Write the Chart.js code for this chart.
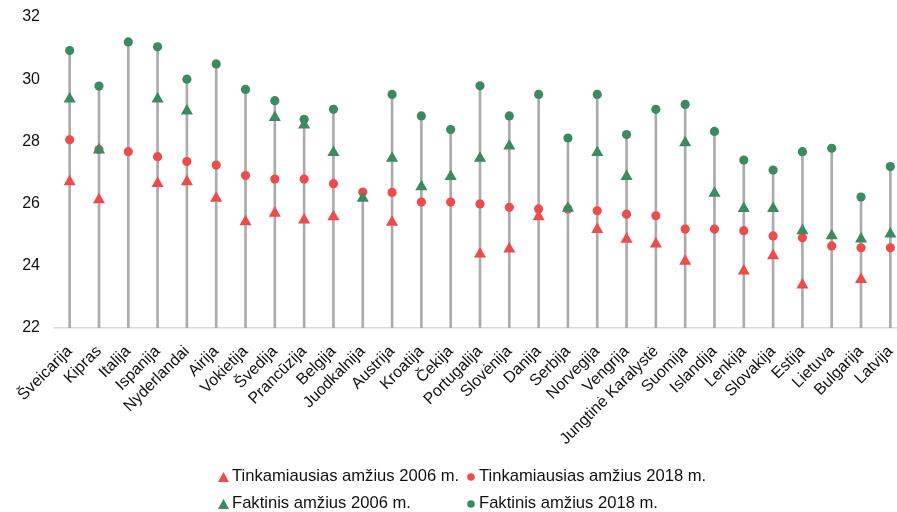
<!DOCTYPE html>
<html>
<head>
<meta charset="utf-8">
<script src="https://cdn.jsdelivr.net/npm/chart.js@4"></script>
<style>
  html, body { margin: 0; padding: 0; background: #fff; overflow: hidden; }
  body { width: 897px; height: 512px; position: relative; font-family: "Liberation Sans", Arial, sans-serif; }
  #wrap { position: absolute; left: 0; top: 0; width: 912px; height: 455px; }
  #legend { position: absolute; left: 0; top: 0; width: 897px; height: 512px; pointer-events: none; }
  .item { position: absolute; font-size: 16.6px; color: #111; white-space: nowrap; line-height: 18px; }
  .item svg { position: absolute; }
</style>
</head>
<body>
<div id="wrap"><canvas id="c" width="912" height="455"></canvas></div>
<div id="legend"></div>
<script>
const categories = ["Šveicarija","Kipras","Italija","Ispanija","Nyderlandai","Airija","Vokietija","Švedija","Prancūzija","Belgija","Juodkalnija","Austrija","Kroatija","Čekija","Portugalija","Slovėnija","Danija","Serbija","Norvegija","Vengrija","Jungtinė Karalystė","Suomija","Islandija","Lenkija","Slovakija","Estija","Lietuva","Bulgarija","Latvija"];

const optimal2006 = [26.70, 26.12, null, 26.65, 26.70, 26.17, 25.42, 25.69, 25.47, 25.58, null, 25.40, null, null, 24.38, 24.54, 25.58, null, 25.17, 24.85, 24.70, 24.15, null, 23.83, 24.32, 23.38, null, 23.56, null];
const optimal2018 = [28.05, 27.74, 27.67, 27.51, 27.35, 27.24, 26.90, 26.79, 26.79, 26.64, 26.37, 26.36, 26.05, 26.05, 25.99, 25.88, 25.83, 25.83, 25.77, 25.66, 25.61, 25.18, 25.18, 25.13, 24.96, 24.90, 24.64, 24.58, 24.58];
const actual2006 = [29.36, 27.72, null, 29.36, 28.98, null, null, 28.77, 28.53, 27.64, 26.17, 27.46, 26.54, 26.87, 27.46, 27.85, null, 25.85, 27.64, 26.87, null, 27.96, 26.33, 25.84, 25.84, 25.13, 24.97, 24.86, 25.02];
const actual2018 = [30.92, 29.78, 31.20, 31.04, 30.00, 30.49, 29.67, 29.31, 28.71, 29.03, null, 29.51, 28.82, 28.38, 29.79, 28.82, 29.51, 28.11, 29.51, 28.22, 29.03, 29.19, 28.32, 27.40, 27.08, 27.67, 27.78, 26.21, 27.19];

const seriesLabels = ["Tinkamiausias amžius 2006 m.", "Tinkamiausias amžius 2018 m.", "Faktinis amžius 2006 m.", "Faktinis amžius 2018 m."];
const yTicks = [22, 24, 26, 28, 30, 32];

const RED = "#EE4B4B";
const GREEN = "#3A8A62";
const FONT = "'Liberation Sans', Arial, sans-serif";

const stems = categories.map((_, i) => {
  const vals = [optimal2006[i], optimal2018[i], actual2006[i], actual2018[i]].filter(v => v !== null);
  return [yTicks[0], Math.max(...vals)];
});

function pointSet(label, data, color, style, radius, order) {
  return {
    type: "line", label, data, showLine: false,
    pointStyle: style, pointRadius: radius, pointHoverRadius: radius,
    pointBackgroundColor: color, pointBorderColor: color, pointBorderWidth: 0,
    borderColor: color, backgroundColor: color, order
  };
}

new Chart(document.getElementById("c"), {
  data: {
    labels: categories,
    datasets: [
      pointSet(seriesLabels[0], optimal2006, RED, "triangle", 7, 4),
      pointSet(seriesLabels[1], optimal2018, RED, "circle", 4.6, 3),
      pointSet(seriesLabels[2], actual2006, GREEN, "triangle", 7, 2),
      pointSet(seriesLabels[3], actual2018, GREEN, "circle", 4.6, 1),
      { type: "bar", label: "stem", data: stems, backgroundColor: "#ABABAB", barThickness: 2, order: 10 }
    ]
  },
  options: {
    responsive: false,
    animation: false,
    layout: { padding: { top: 17, right: 0, bottom: 0, left: 0 } },
    plugins: { legend: { display: false }, tooltip: { enabled: false } },
    scales: {
      x: {
        type: "category",
        offset: true,
        grid: { display: false },
        border: { display: true, color: "#D9D9D9", width: 1.5 },
        ticks: { autoSkip: false, minRotation: 45, maxRotation: 45, padding: 6, color: "#111", font: { family: FONT, size: 16 } },
        afterFit: s => { s.height = 455 - 328; }
      },
      y: {
        min: yTicks[0], max: yTicks[yTicks.length - 1],
        grid: { display: false },
        border: { display: false },
        afterBuildTicks: s => { s.ticks = yTicks.map(v => ({ value: v })); },
        ticks: { padding: 7, color: "#111", font: { family: FONT, size: 16 } },
        afterFit: s => { s.width = 55; }
      }
    }
  }
});

// HTML legend built from series labels
const legend = document.getElementById("legend");
const legendPos = [[218, 467], [467, 467], [218, 494], [467, 494]];
const legendMarks = [["triangle", RED], ["circle", RED], ["triangle", GREEN], ["circle", GREEN]];
seriesLabels.forEach((lab, i) => {
  const [x, y] = legendPos[i];
  const [shape, col] = legendMarks[i];
  const d = document.createElement("div");
  d.className = "item";
  d.style.left = x + "px";
  d.style.top = y + "px";
  d.style.paddingLeft = (shape === "triangle" ? 14 : 12) + "px";
  const svg = shape === "triangle"
    ? `<svg width="11" height="10" style="left:0;top:5px"><polygon points="5.5,0 11,10 0,10" fill="${col}"/></svg>`
    : `<svg width="8" height="8" style="left:0;top:6px"><circle cx="4" cy="4" r="3.8" fill="${col}"/></svg>`;
  d.innerHTML = svg + "<span>" + lab + "</span>";
  legend.appendChild(d);
});
</script>
</body>
</html>
